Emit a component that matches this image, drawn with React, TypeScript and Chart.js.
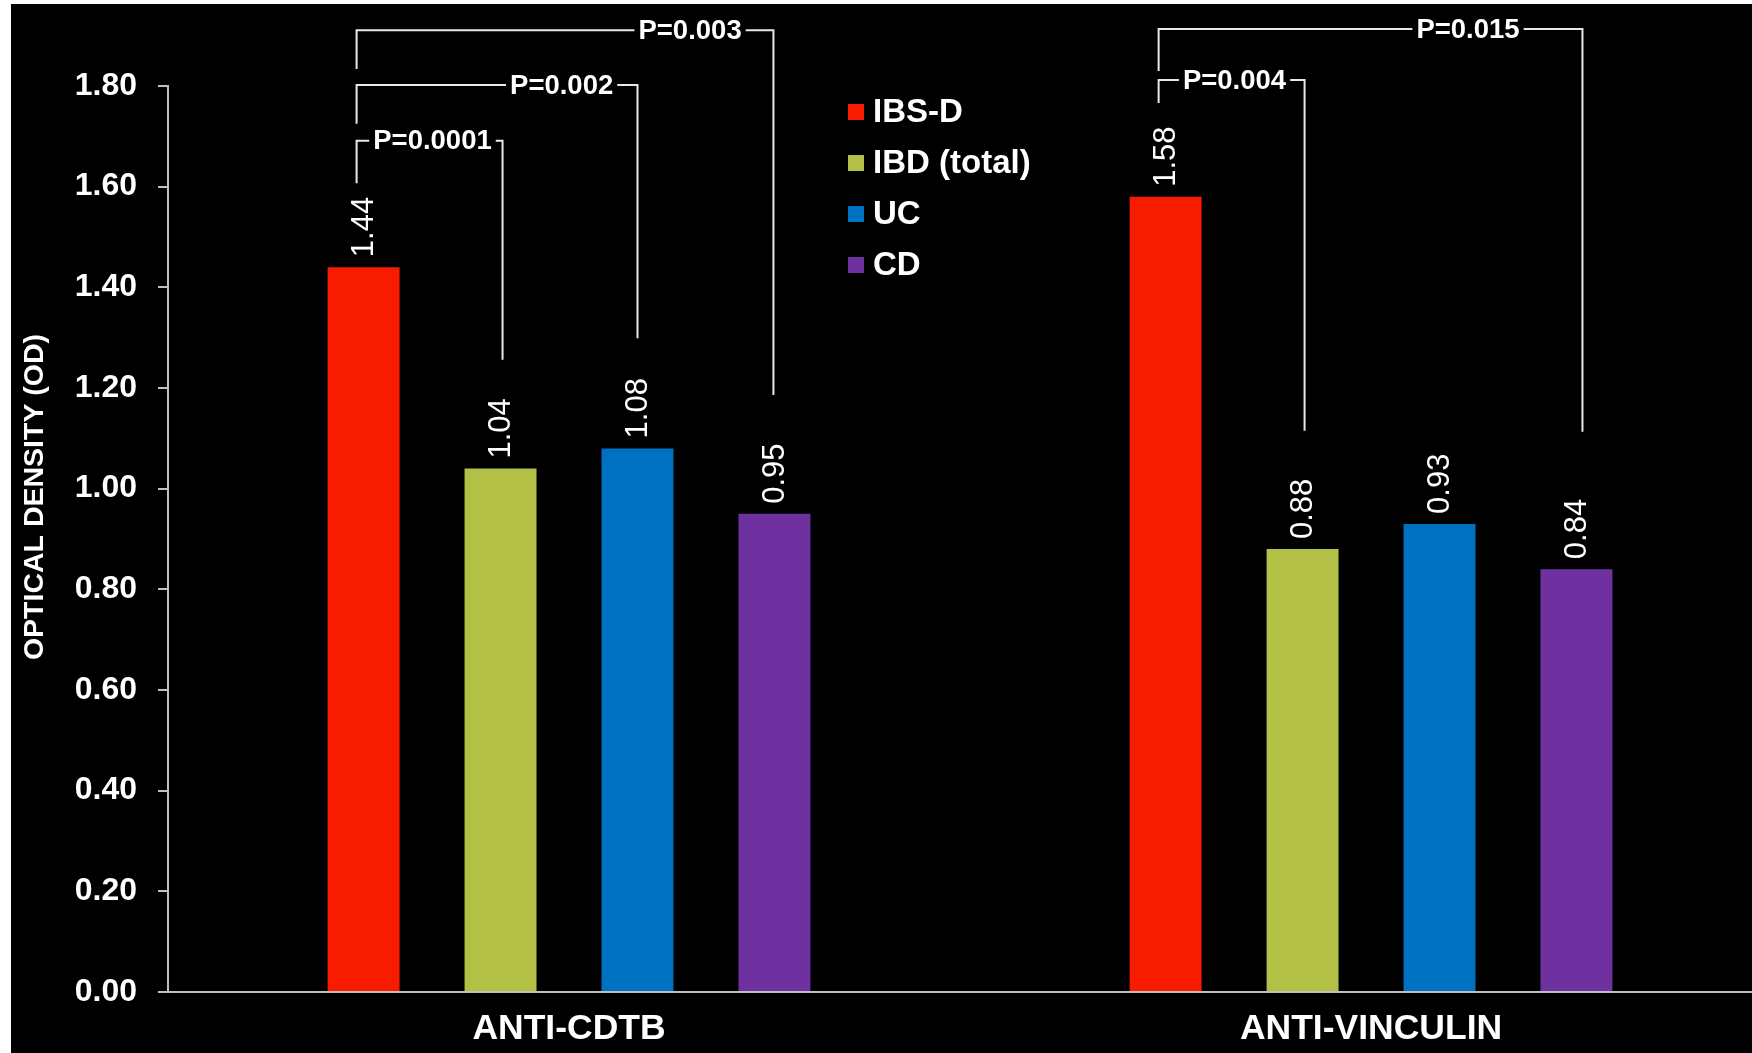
import React, { useEffect, useRef } from "react";
import { Chart, registerables } from "chart.js";

Chart.register(...registerables);

// ---------- data ----------
const categories = ["ANTI-CDTB", "ANTI-VINCULIN"];
const seriesNames = ["IBS-D", "IBD (total)", "UC", "CD"];
const ibsD = [1.44, 1.58];
const ibdTotal = [1.04, 0.88];
const uc = [1.08, 0.93];
const cd = [0.95, 0.84];
const seriesValues = [ibsD, ibdTotal, uc, cd];
const yTickValues = [0, 0.2, 0.4, 0.6, 0.8, 1.0, 1.2, 1.4, 1.6, 1.8];
const yTitle = "OPTICAL DENSITY (OD)";

// significance brackets: group index, compared series, label
const pLabels = ["P=0.0001", "P=0.002", "P=0.003", "P=0.004", "P=0.015"];
const pGroup = [0, 0, 0, 1, 1];
const pTarget = [1, 2, 3, 1, 3];

// ---------- styles / layout ----------
const FONT = "'Liberation Sans', Arial, Helvetica, sans-serif";
const seriesColors = ["#F71C00", "#B2C046", "#0071C1", "#7031A0"];
const AXIS_COLOR = "#BFBFBF";
// bracket geometry: [top, left leg end, right leg end (value units), label position fraction, right leg px shift]
const BRACKET_GEOMETRY = [
  [1.691, 1.607, 1.256, 0.52, 2],
  [1.802, 1.725, 1.299, 0.73, 0],
  [1.911, 1.834, 1.186, 0.8, -1],
  [1.812, 1.766, 1.115, 0.52, 2],
  [1.913, 1.83, 1.113, 0.73, 6],
];

const overlayPlugin = {
  id: "overlay",
  beforeDraw(chart: any) {
    const { ctx, width, height } = chart;
    ctx.save();
    ctx.fillStyle = "#FFFFFF";
    ctx.fillRect(0, 0, width, height);
    ctx.fillStyle = "#000000";
    ctx.fillRect(11, 4, width - 11, height - 4);
    ctx.restore();
  },
  afterDraw(chart: any) {
    const ctx = chart.ctx;
    const yScale = chart.scales.y;
    ctx.save();

    // value labels (rotated)
    ctx.fillStyle = "#FFFFFF";
    ctx.font = `400 31px ${FONT}`;
    ctx.textAlign = "left";
    ctx.textBaseline = "middle";
    seriesValues.forEach((vals, si) => {
      const meta = chart.getDatasetMeta(si);
      meta.data.forEach((bar: any, ci: number) => {
        ctx.save();
        ctx.translate(bar.x + 1, bar.y - 10);
        ctx.rotate(-Math.PI / 2);
        ctx.fillText(vals[ci].toFixed(2), 0, 0);
        ctx.restore();
      });
    });

    // brackets
    ctx.strokeStyle = "#E8E8E8";
    ctx.lineWidth = 2;
    ctx.font = `700 27.5px ${FONT}`;
    ctx.textAlign = "center";
    ctx.textBaseline = "middle";
    pLabels.forEach((label, bi) => {
      const g = pGroup[bi];
      const [top, lEnd, rEnd, frac, rShift] = BRACKET_GEOMETRY[bi];
      const xl = chart.getDatasetMeta(0).data[g].x - 7;
      const xr = chart.getDatasetMeta(pTarget[bi]).data[g].x + rShift;
      const yt = yScale.getPixelForValue(top);
      const yl = yScale.getPixelForValue(lEnd);
      const yr = yScale.getPixelForValue(rEnd);
      const tw = ctx.measureText(label).width;
      const cx = xl + (xr - xl) * frac;
      ctx.beginPath();
      ctx.moveTo(xl, yl);
      ctx.lineTo(xl, yt);
      ctx.lineTo(cx - tw / 2 - 4, yt);
      ctx.moveTo(cx + tw / 2 + 4, yt);
      ctx.lineTo(xr, yt);
      ctx.lineTo(xr, yr);
      ctx.stroke();
      ctx.fillText(label, cx, yt + 1);
    });

    // legend
    ctx.font = `700 33px ${FONT}`;
    ctx.textAlign = "left";
    ctx.textBaseline = "middle";
    seriesNames.forEach((name, i) => {
      const cy = 112 + i * 51;
      ctx.fillStyle = seriesColors[i];
      ctx.fillRect(848, cy - 8, 16, 16);
      ctx.fillStyle = "#FFFFFF";
      ctx.fillText(name, 873, cy + 1);
    });

    // y axis title
    ctx.save();
    ctx.font = `700 28.5px ${FONT}`;
    ctx.textAlign = "center";
    ctx.textBaseline = "middle";
    ctx.fillStyle = "#FFFFFF";
    ctx.translate(35, 497);
    ctx.rotate(-Math.PI / 2);
    ctx.fillText(yTitle, 0, 0);
    ctx.restore();

    ctx.restore();
  },
};

export default function App() {
  const canvasRef = useRef<HTMLCanvasElement | null>(null);

  useEffect(() => {
    if (!canvasRef.current) return;
    const chart = new Chart(canvasRef.current, {
      type: "bar",
      data: {
        datasets: seriesNames.map((name, si) => ({
          label: name,
          data: seriesValues[si].map((v, i) => ({ x: i, y: v })),
          backgroundColor: seriesColors[si],
          borderWidth: 0,
          categoryPercentage: 0.683,
          barPercentage: 0.5255,
        })),
      },
      options: {
        animation: false,
        responsive: false,
        devicePixelRatio: 1,
        layout: { padding: { top: 86, left: 0, right: 0, bottom: 0 } },
        plugins: {
          legend: { display: false },
          tooltip: { enabled: false },
          title: { display: false },
        },
        scales: {
          x: {
            type: "linear",
            offset: false,
            min: -0.5,
            max: 1.475,
            afterBuildTicks: (scale: any) => {
              scale.ticks = categories.map((_, i) => ({ value: i }));
            },
            afterFit: (scale: any) => {
              scale.height = 61;
            },
            grid: { display: false, drawTicks: false, offset: false },
            border: { display: true, color: AXIS_COLOR, width: 2 },
            ticks: {
              autoSkip: false,
              maxRotation: 0,
              padding: 16,
              color: "#FFFFFF",
              font: { family: FONT, size: 35.5, weight: "bold" },
              callback: (v: any) => categories[Math.round(Number(v))] ?? "",
            },
          },
          y: {
            min: 0,
            max: 1.8,
            afterBuildTicks: (scale: any) => {
              scale.ticks = yTickValues.map((v) => ({ value: v }));
            },
            afterFit: (scale: any) => {
              scale.width = 168;
            },
            grid: {
              display: true,
              drawOnChartArea: false,
              drawTicks: true,
              tickLength: 10,
              color: AXIS_COLOR,
              lineWidth: 2,
            },
            border: { display: true, color: AXIS_COLOR, width: 2 },
            ticks: {
              padding: 21,
              color: "#FFFFFF",
              font: { family: FONT, size: 32, weight: "bold" },
              callback: (v: any) => Number(v).toFixed(2),
            },
          },
        },
      },
      plugins: [overlayPlugin],
    });
    return () => chart.destroy();
  }, []);

  return (
    <div style={{ position: "fixed", left: 0, top: 0, width: 1752, height: 1053, overflow: "hidden" }}>
      <canvas ref={canvasRef} width={1752} height={1053} style={{ display: "block", width: 1752, height: 1053 }} />
    </div>
  );
}
